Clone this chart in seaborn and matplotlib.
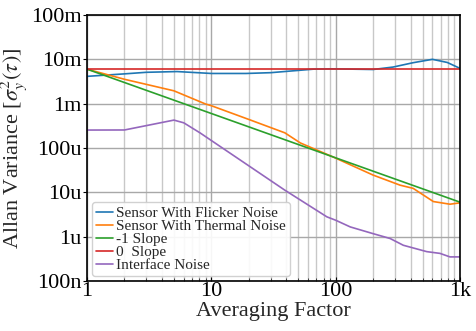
import numpy as np
import pandas as pd
import matplotlib
matplotlib.use("Agg")
import matplotlib.pyplot as plt
import seaborn as sns
from matplotlib.ticker import FixedLocator, FixedFormatter, LogLocator, NullFormatter

# ---- data ----
flicker_x = [1, 2, 3, 5.3, 10, 19, 30, 66, 95, 200, 290, 420, 600, 790, 1000]
flicker_y = [4.13e-3, 4.7e-3, 5.1e-3, 5.3e-3, 4.8e-3, 4.8e-3, 5.0e-3, 6.0e-3, 6.1e-3,
             5.9e-3, 6.7e-3, 8.4e-3, 1.0e-2, 8.5e-3, 6.25e-3]

thermal_x = [1, 2, 5, 9, 10, 20.5, 39, 52, 95, 200, 330, 420, 610, 830, 1000]
thermal_y = [6.0e-3, 3.55e-3, 1.95e-3, 0.98e-3, 0.9e-3, 4.3e-4, 2.2e-4, 1.3e-4, 6.3e-5,
             2.45e-5, 1.45e-5, 1.23e-5, 6.2e-6, 5.4e-6, 5.8e-6]

slope_x = [1, 1000]
slope_m1_y = [6.0e-3, 6.0e-6]
slope_0_y = [6.0e-3, 6.0e-3]

iface_x = [1, 2, 5, 6, 8.1, 39, 85, 100, 131, 200, 274, 350, 540, 690, 830, 1000]
iface_y = [2.54e-4, 2.55e-4, 4.26e-4, 3.7e-4, 2.2e-4, 1.12e-5, 2.8e-6, 2.35e-6, 1.66e-6,
           1.17e-6, 9.1e-7, 6.4e-7, 4.6e-7, 4.2e-7, 3.5e-7, 3.5e-7]

labels = ["Sensor With Flicker Noise", "Sensor With Thermal Noise", "-1 Slope",
          "0  Slope", "Interface Noise"]
colors = ["#1f77b4", "#ff7f0e", "#2ca02c", "#d62728", "#9467bd"]

ytick_vals = [1e-7, 1e-6, 1e-5, 1e-4, 1e-3, 1e-2, 1e-1]
ytick_labels = ["100n", "1u", "10u", "100u", "1m", "10m", "100m"]
xtick_vals = [1, 10, 100, 1000]
xtick_labels = ["1", "10", "100", "1k"]

# ---- plot ----
sns.set_style("white")
plt.rcParams["font.family"] = ["Liberation Serif", "DejaVu Serif"]
plt.rcParams["mathtext.fontset"] = "stix"

fig = plt.figure(figsize=(4.77, 3.31), dpi=100)
ax = fig.add_axes([0.1824, 0.151, 0.782, 0.8037])

series = [(flicker_x, flicker_y), (thermal_x, thermal_y), (slope_x, slope_m1_y),
          (slope_x, slope_0_y), (iface_x, iface_y)]
for (xs, ys), lab, col in zip(series, labels, colors):
    sns.lineplot(x=xs, y=ys, ax=ax, color=col, label=lab, linewidth=1.2)

ax.set_xscale("log")
ax.set_yscale("log")
ax.set_xlim(1, 1000)
ax.set_ylim(1e-7, 1e-1)

ax.xaxis.set_major_locator(FixedLocator(xtick_vals))
ax.xaxis.set_major_formatter(FixedFormatter(xtick_labels))
ax.yaxis.set_major_locator(FixedLocator(ytick_vals))
ax.yaxis.set_major_formatter(FixedFormatter(ytick_labels))
ax.xaxis.set_minor_locator(LogLocator(base=10, subs=np.arange(2, 10)))
ax.yaxis.set_minor_locator(LogLocator(base=10, subs=np.arange(2, 10)))
ax.xaxis.set_minor_formatter(NullFormatter())
ax.yaxis.set_minor_formatter(NullFormatter())

ax.grid(True, which="major", color="#a8a8a8", linewidth=1.0)
ax.grid(True, which="minor", color="#c8c8c8", linewidth=1.0)
ax.tick_params(axis="both", which="major", labelsize=16, length=3, width=0.8,
               pad=1, left=True, bottom=True, colors="black")
ax.tick_params(axis="both", which="minor", length=2, width=0.6, left=True, bottom=True)
ax.tick_params(axis="x", which="both", direction="in")
ax.tick_params(axis="y", which="both", direction="out")
for s in ax.spines.values():
    s.set_color("black")
    s.set_linewidth(1.2)

ax.set_xlabel("Averaging Factor", fontsize=16, labelpad=0.5)
ax.set_ylabel(r"Allan Variance [$\sigma_y^2(\tau)$]", fontsize=16, labelpad=1)

leg = ax.legend(loc="lower left", fontsize=11, handlelength=1.1, handletextpad=0.2,
                labelspacing=-0.05, borderpad=0.3, borderaxespad=0.3, frameon=True,
                fancybox=True, framealpha=0.9)
leg.get_frame().set_edgecolor("#cccccc")

fig.savefig("out.png", dpi=100)
